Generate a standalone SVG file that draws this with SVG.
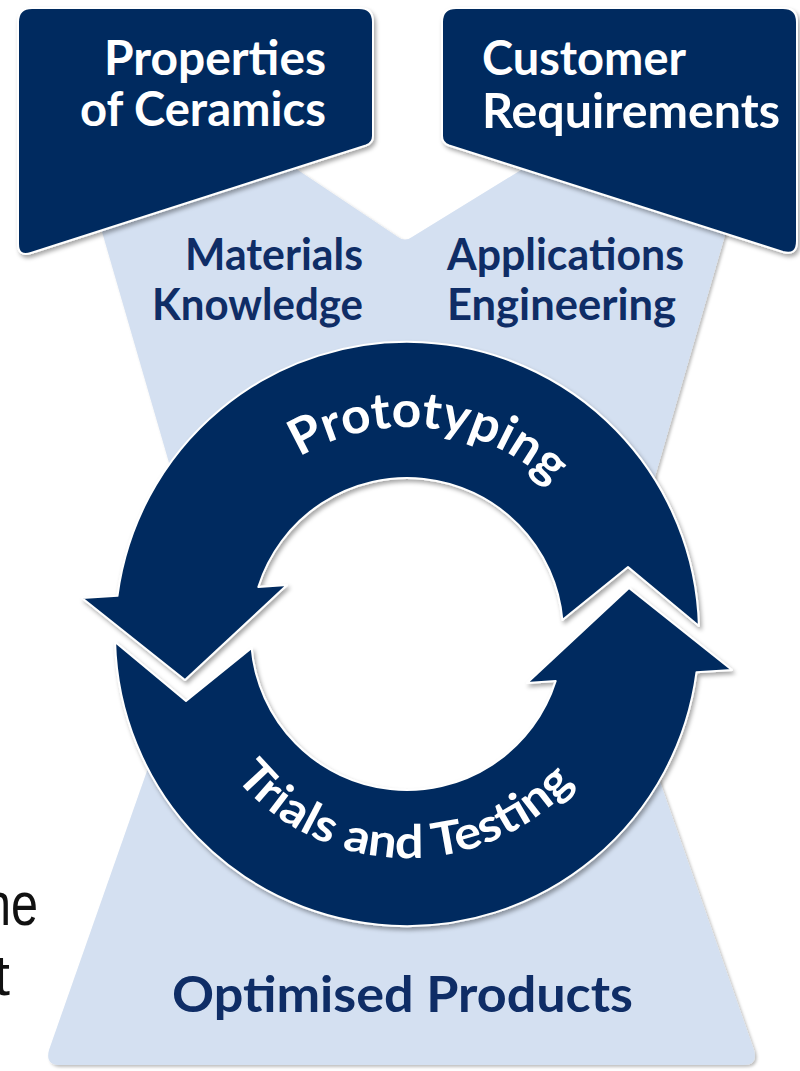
<svg xmlns="http://www.w3.org/2000/svg" xmlns:xlink="http://www.w3.org/1999/xlink" width="800" height="1071" viewBox="0 0 800 1071">
  <defs>
    <style>
      .navy { fill: #032c5e; stroke: #ffffff; stroke-width: 2; stroke-linejoin: round; }
      .band { fill: #d4e0f1; }
      .hd { font-family: Lato, "Open Sans", "DejaVu Sans", sans-serif; font-weight: 700; fill: #ffffff; }
      .lb { font-family: Lato, "Open Sans", "DejaVu Sans", sans-serif; font-weight: 700; fill: #0f2d66; }
      .frag { font-family: "Liberation Sans", Arial, sans-serif; fill: #111111; }
    </style>
    <filter id="sh" x="-10%" y="-10%" width="125%" height="125%">
      <feDropShadow dx="2" dy="3" stdDeviation="2.2" flood-color="#000000" flood-opacity="0.35"/>
    </filter>
    <filter id="shl" x="-5%" y="-5%" width="112%" height="112%">
      <feDropShadow dx="2" dy="2" stdDeviation="1.5" flood-color="#000000" flood-opacity="0.25"/>
    </filter>
    <path id="arrowTop" d="M 562.4,620 L 628,567 L 698.9,626 A 292 292 0 0 0 117.5,595.8 L 82,598 L 185,680 L 287,585 L 258.3,587 A 156 156 0 0 1 562.4,620 Z"/>
    <path id="protoPath" d="M 200,634 A 207 207 0 0 1 614,634"/>
    <path id="trialsPath" d="M 183,634 A 224 224 0 0 0 631,634"/>
  </defs>

  <rect width="800" height="1071" fill="#ffffff"/>

  <!-- background fragments of surrounding text -->
  <text class="frag" x="-16" y="925" font-size="62" textLength="54" lengthAdjust="spacingAndGlyphs">ne</text>
  <text class="frag" x="-7" y="995" font-size="58" textLength="17" lengthAdjust="spacingAndGlyphs">t</text>

  <!-- light blue hourglass band -->
  <g id="band">
    <path class="band" filter="url(#shl)" d="M 250,138 L 398,237 Q 405,242 412,237 L 560,146 L 735.2,200 L 608.8,635.9 L 754,1050 Q 758,1065 744,1065 L 60,1065 Q 45,1065 49,1050 L 208,597.2 L 97.15,215 Z"/>
    <circle cx="407" cy="634" r="250" fill="#ffffff"/>
  </g>

  <!-- top boxes -->
  <g id="properties-of-ceramics">
    <path class="navy" filter="url(#sh)" d="M 32,8 L 359,8 Q 373,8 373,22 L 373,136 Q 373,143 366,145.5 L 31,253 Q 18,257 18,244 L 18,22 Q 18,8 32,8 Z"/>
    <text class="hd" x="104" y="75" font-size="48" textLength="222" lengthAdjust="spacingAndGlyphs">Properties</text>
    <text class="hd" x="80" y="126" font-size="48" textLength="246" lengthAdjust="spacingAndGlyphs">of Ceramics</text>
  </g>
  <g id="customer-requirements">
    <path class="navy" filter="url(#sh)" d="M 456,8 L 783,8 Q 797,8 797,22 L 797,241 Q 797,256 783,252 L 449,145.5 Q 442,143 442,136 L 442,22 Q 442,8 456,8 Z"/>
    <text class="hd" x="482" y="75" font-size="48" textLength="204" lengthAdjust="spacingAndGlyphs">Customer</text>
    <text class="hd" x="482" y="128" font-size="48" textLength="298" lengthAdjust="spacingAndGlyphs">Requirements</text>
  </g>

  <!-- band labels -->
  <g id="materials-knowledge">
    <text class="lb" x="185" y="270" font-size="44" textLength="178" lengthAdjust="spacingAndGlyphs">Materials</text>
    <text class="lb" x="152" y="320" font-size="44" textLength="211" lengthAdjust="spacingAndGlyphs">Knowledge</text>
  </g>
  <g id="applications-engineering">
    <text class="lb" x="447" y="270" font-size="44" textLength="237" lengthAdjust="spacingAndGlyphs">Applications</text>
    <text class="lb" x="447" y="320" font-size="44" textLength="229" lengthAdjust="spacingAndGlyphs">Engineering</text>
  </g>

  <!-- circular arrows -->
  <g id="connectors" filter="url(#sh)">
    <use xlink:href="#arrowTop" class="navy"/>
    <use xlink:href="#arrowTop" class="navy" transform="rotate(180 407 634)"/>
  </g>

  <g id="prototyping">
    <text class="hd" font-size="50"><textPath xlink:href="#protoPath" startOffset="53.5%" text-anchor="middle" textLength="272" lengthAdjust="spacingAndGlyphs">Prototyping</textPath></text>
  </g>
  <g id="trials-and-testing">
    <text class="hd" font-size="46"><textPath xlink:href="#trialsPath" startOffset="49.5%" text-anchor="middle" textLength="385" lengthAdjust="spacingAndGlyphs">Trials and Testing</textPath></text>
  </g>

  <g id="optimised-products">
    <text class="lb" x="172" y="1012" font-size="50" textLength="461" lengthAdjust="spacingAndGlyphs">Optimised Products</text>
  </g>
</svg>
